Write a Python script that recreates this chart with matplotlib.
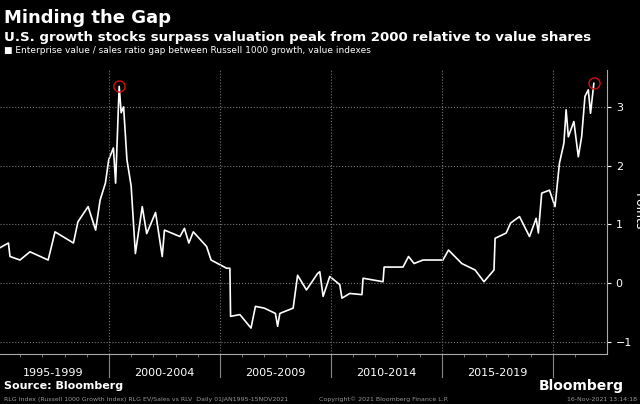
import matplotlib.pyplot as plt

# EV/sales gap (decimal year, points)
years = [1995.09, 1995.47, 1995.54, 1995.99, 1996.44, 1997.26, 1997.57, 1998.4, 1998.6,
         1999.06, 1999.4, 1999.6, 1999.84, 1999.99, 2000.2, 2000.3, 2000.46, 2000.55,
         2000.66, 2000.81, 2001.0, 2001.19, 2001.5, 2001.7, 2002.1, 2002.4, 2002.5,
         2003.2, 2003.4, 2003.6, 2003.8, 2004.4, 2004.6, 2005.3, 2005.45, 2005.48,
         2005.9, 2006.4, 2006.6, 2007.0, 2007.5, 2007.6, 2007.7, 2008.3, 2008.5,
         2008.9, 2009.4, 2009.5, 2009.65, 2009.95, 2010.4, 2010.5, 2010.85, 2011.4,
         2011.45, 2012.35, 2012.4, 2013.25, 2013.5, 2013.75, 2014.15, 2015.05, 2015.3,
         2015.9, 2016.5, 2016.9, 2017.35, 2017.4, 2017.9, 2018.1, 2018.5, 2018.95,
         2019.25, 2019.35, 2019.5, 2019.85, 2020.1, 2020.3, 2020.5, 2020.6, 2020.7,
         2020.95, 2021.15, 2021.3, 2021.45, 2021.6, 2021.7, 2021.85]
gap = [0.6, 0.68, 0.45, 0.39, 0.53, 0.39, 0.87, 0.68, 1.04,
       1.3, 0.9, 1.41, 1.7, 2.1, 2.3, 1.7, 3.35, 2.9,
       3.0, 2.1, 1.65, 0.5, 1.3, 0.84, 1.2, 0.45, 0.9,
       0.79, 0.93, 0.68, 0.87, 0.62, 0.39, 0.25, 0.25, -0.57,
       -0.54, -0.77, -0.4, -0.43, -0.52, -0.74, -0.52, -0.43, 0.13,
       -0.12, 0.16, 0.19, -0.23, 0.11, -0.03, -0.26, -0.18, -0.2,
       0.08, 0.02, 0.27, 0.27, 0.45, 0.33, 0.39, 0.39, 0.56,
       0.33, 0.22, 0.02, 0.22, 0.76, 0.85, 1.02, 1.13, 0.79,
       1.1, 0.85, 1.53, 1.58, 1.3, 2.04, 2.38, 2.95, 2.49,
       2.75, 2.15, 2.49, 3.18, 3.29, 2.89, 3.4]
peaks = [(2000.46, 3.35), (2021.85, 3.4)]
period_labels = ['1995-1999', '2000-2004', '2005-2009', '2010-2014', '2015-2019']
period_starts = [1995, 2000, 2005, 2010, 2015]

fig = plt.figure(figsize=(6.4, 4.04), dpi=100, facecolor='black')
ax = fig.add_axes([0, 0.124, 0.948, 0.703], facecolor='black')

ax.plot(years, gap, color='white', lw=1.2)
for px, py in peaks:
    ax.plot(px, py, 'o', ms=8, mfc='none', mec='#cc1111', mew=1)

ax.set_xlim(1995.09, 2022.43)
ax.set_ylim(-1.21, 3.63)

ax.yaxis.tick_right()
ax.set_yticks([-1, 0, 1, 2, 3])
ax.tick_params(axis='y', colors='white', labelsize=8, length=3)
ax.grid(axis='y', color='#777777', ls=':', lw=0.8)
for x in [2000, 2005, 2010, 2015, 2020]:
    ax.axvline(x, color='#777777', ls=':', lw=0.8)
    ax.plot([x, x], [-1.21, -1.6], color='#888888', lw=0.8, clip_on=False)

ax.set_xticks(range(1996, 2022), minor=True)
ax.set_xticks([s + 2.5 for s in period_starts])
ax.set_xticklabels(period_labels)
ax.tick_params(axis='x', which='major', length=0, colors='white', labelsize=8, pad=10)
ax.tick_params(axis='x', which='minor', length=2, colors='#888888')

for side in ['top', 'left']:
    ax.spines[side].set_visible(False)
for side in ['bottom', 'right']:
    ax.spines[side].set_color('#aaaaaa')

ax.set_ylabel('Points', color='white', fontsize=9, rotation=270, labelpad=9)
ax.yaxis.set_label_position('right')

fig.text(0.006, 0.955, 'Minding the Gap', color='white', fontsize=13, weight='bold', va='center')
fig.text(0.006, 0.908, 'U.S. growth stocks surpass valuation peak from 2000 relative to value shares',
         color='white', fontsize=9.6, weight='bold', va='center')
fig.text(0.006, 0.875, '\u25a0 Enterprise value / sales ratio gap between Russell 1000 growth, value indexes',
         color='white', fontsize=6.5, va='center')
fig.text(0.006, 0.044, 'Source: Bloomberg', color='white', fontsize=8, weight='bold', va='center')
fig.text(0.975, 0.044, 'Bloomberg', color='white', fontsize=10, weight='bold', va='center', ha='right')
fig.text(0.006, 0.012, 'RLG Index (Russell 1000 Growth Index) RLG EV/Sales vs RLV  Daily 01JAN1995-15NOV2021',
         color='#999999', fontsize=4.5, va='center')
fig.text(0.6, 0.012, 'Copyright\u00a9 2021 Bloomberg Finance L.P.', color='#999999', fontsize=4.5,
         va='center', ha='center')
fig.text(0.995, 0.012, '16-Nov-2021 13:14:18', color='#999999', fontsize=4.5, va='center', ha='right')

fig.savefig('out.png', dpi=100, facecolor='black')
